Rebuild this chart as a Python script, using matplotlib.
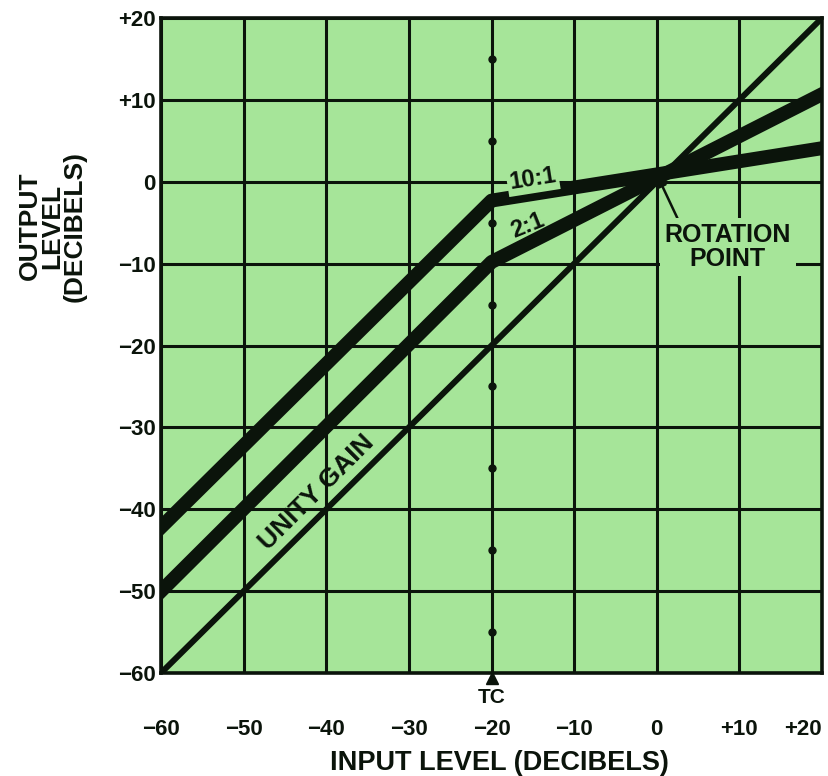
import matplotlib
matplotlib.use("Agg")
import matplotlib.pyplot as plt
import matplotlib.transforms as mtransforms
import numpy as np

# ---- data ----
x_ticks = [-60, -50, -40, -30, -20, -10, 0, 10, 20]
x_tick_labels = ["\u221260", "\u221250", "\u221240", "\u221230", "\u221220", "\u221210", "0", "+10", "+20"]
y_ticks = [-60, -50, -40, -30, -20, -10, 0, 10, 20]
y_tick_labels = ["\u221260", "\u221250", "\u221240", "\u221230", "\u221220", "\u221210", "0", "+10", "+20"]

unity_x = [-60, 20]
unity_y = [-60, 20]
ratio10_x = [-60, -20, 20]
ratio10_y = [-42.2, -2.3, 4.1]
ratio2_x = [-60, -20, 20]
ratio2_y = [-50.0, -9.8, 10.7]

tc_level = -20
tc_dots_y = [15, 5, -5, -15, -25, -35, -45, -55]
rotation_point = (0, 0.9)

GREEN = "#a6e599"
INK = "#0b140b"
FONT = "Liberation Sans"

plt.rcParams['font.family'] = [FONT, 'DejaVu Sans']

fig = plt.figure(figsize=(8.29, 7.76), dpi=100)
ax = fig.add_axes([0.1942, 0.1327, 0.7974, 0.8441])
ax.set_facecolor(GREEN)
ax.set_xlim(-60, 20)
ax.set_ylim(-60, 20)

# grid
for v in x_ticks:
    ax.axvline(v, color=INK, lw=2.2, zorder=1)
for v in y_ticks:
    ax.axhline(v, color=INK, lw=2.2, zorder=1)
for s in ax.spines.values():
    s.set_color(INK)
    s.set_linewidth(2.6)
    s.set_zorder(6)

# TC dots
ax.plot([tc_level] * len(tc_dots_y), tc_dots_y, 'o', color=INK, ms=5, zorder=2)

# curves
ax.plot(unity_x, unity_y, color=INK, lw=4.3, solid_capstyle='projecting', zorder=3)
ax.plot(ratio2_x, ratio2_y, color=INK, lw=10, solid_joinstyle='round', solid_capstyle='projecting', zorder=4)
ax.plot(ratio10_x, ratio10_y, color=INK, lw=10, solid_joinstyle='round', solid_capstyle='projecting', zorder=4)

# labels on chart
ax.text(-15.0, 0.3, "10:1", fontsize=17, fontweight='bold', color=INK, rotation=9,
        ha='center', va='center', zorder=5,
        bbox=dict(boxstyle='square,pad=0.1', fc=GREEN, ec='none'))
ax.text(-15.6, -5.4, "2:1", fontsize=17, fontweight='bold', color=INK, rotation=22,
        ha='center', va='center', zorder=5)
ax.text(-41.2, -38.0, "UNITY GAIN", fontsize=19, fontweight='bold', color=INK, rotation=45,
        ha='center', va='center', zorder=5)
ax.annotate("ROTATION\nPOINT", xy=rotation_point, xytext=(8.6, -8.0),
            fontsize=18, fontweight='bold', color=INK, ha='center', va='center',
            linespacing=1.0, zorder=5,
            bbox=dict(boxstyle='square,pad=0.2', fc=GREEN, ec='none'),
            arrowprops=dict(arrowstyle='-|>', color=INK, lw=1.8, mutation_scale=13,
                            shrinkA=0, shrinkB=2,
                            relpos=(0.12, 1.0)))

# ticks
ax.set_xticks(x_ticks)
ax.set_xticklabels(x_tick_labels, fontsize=16, fontweight='bold', color=INK)
ax.set_yticks(y_ticks)
ax.set_yticklabels(y_tick_labels, fontsize=16, fontweight='bold', color=INK)
ax.tick_params(axis='x', length=0, pad=33)
ax.tick_params(axis='y', length=0, pad=4)
xl = ax.get_xticklabels()
xl[-1].set_horizontalalignment('right')
xl[-1].set_x(20)

# TC marker
offset = mtransforms.ScaledTranslation(0, -3.8 / 72, fig.dpi_scale_trans)
ax.plot([tc_level], [-60], marker='^', color=INK, ms=8, clip_on=False,
        transform=ax.transData + offset, zorder=7)
ax.text(tc_level, -60, "TC", fontsize=15, fontweight='bold', color=INK, ha='center', va='top',
        transform=ax.transData + mtransforms.ScaledTranslation(0, -11 / 72, fig.dpi_scale_trans))

# axis titles
fig.text(0.6019, 1 - 763 / 776, "INPUT LEVEL (DECIBELS)", fontsize=19.5, fontweight='bold',
         color=INK, ha='center', va='center')
fig.text(52 / 829, 1 - 226 / 776, "OUTPUT\nLEVEL\n(DECIBELS)", fontsize=19, fontweight='bold',
         color=INK, ha='center', va='center', rotation=90, linespacing=0.92)

fig.savefig("out.png", dpi=100, facecolor='white')
